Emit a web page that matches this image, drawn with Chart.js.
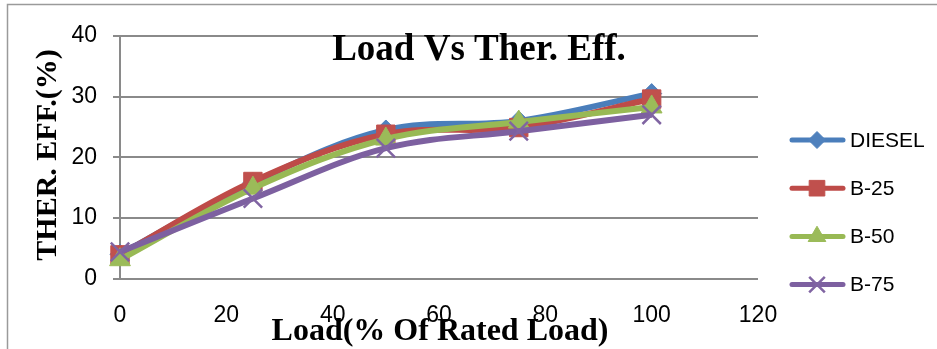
<!DOCTYPE html>
<html>
<head>
<meta charset="utf-8">
<title>Load Vs Ther. Eff.</title>
<script src="https://cdn.jsdelivr.net/npm/chart.js@4.4.1/dist/chart.umd.min.js"></script>
<style>
  body { margin: 0; background: #fff; }
  #wrap { position: relative; width: 937px; height: 349px; }
</style>
</head>
<body>
<div id="wrap"><canvas id="myChart" width="937" height="349"></canvas></div>
<script>
// data
const loads = [0, 25, 50, 75, 100];
const diesel = [4.0, 15.8, 24.5, 26.0, 30.5];
const b25 = [3.9, 16.0, 23.8, 24.9, 29.6];
const b50 = [3.1, 14.9, 23.0, 25.8, 28.3];
const b75 = [4.4, 13.2, 21.5, 24.3, 27.0];
const seriesNames = ['DIESEL', 'B-25', 'B-50', 'B-75'];
const xTicks = [0, 20, 40, 60, 80, 100, 120];
const yTicks = [0, 10, 20, 30, 40];

const tickFont = '"Liberation Sans", Arial, sans-serif';
const serif = '"Liberation Serif", "Times New Roman", serif';

function pts(vals) {
    return loads.map((x, i) => ({ x: x, y: vals[i] }));
}

// later series drawn on top, like the original
function makeSet(label, vals, line, mark, style, radius, bw, order) {
    return {
        label: label,
        data: pts(vals),
        order: order,
        borderColor: line,
        borderWidth: 6,
        tension: 0.35,
        pointStyle: style,
        pointRadius: radius,
        pointHoverRadius: radius,
        pointBackgroundColor: mark,
        pointBorderColor: mark,
        pointBorderWidth: bw,
        clip: false
    };
}

// frame, titles and legend drawn on the canvas
const extras = {
    id: 'extras',
    beforeDraw(chart) {
        const c = chart.ctx;
        c.save();
        c.strokeStyle = '#9a9a9a';
        c.lineWidth = 1.5;
        c.beginPath();
        c.moveTo(7.5, 349);
        c.lineTo(7.5, 4.5);
        c.lineTo(937, 4.5);
        c.stroke();
        c.restore();
    },
    afterDraw(chart) {
        const c = chart.ctx;
        c.save();
        c.fillStyle = '#000';
        c.textAlign = 'center';
        c.textBaseline = 'alphabetic';
        c.font = 'bold 37px ' + serif;
        c.fillText('Load Vs Ther. Eff.', 479, 60);
        c.font = 'bold 32px ' + serif;
        c.fillText('Load(% Of Rated Load)', 440, 340);
        c.save();
        c.translate(56, 155);
        c.rotate(-Math.PI / 2);
        c.font = 'bold 30px ' + serif;
        c.fillText('THER. EFF.(%)', 0, 0);
        c.restore();

        // legend
        chart.data.datasets.forEach((ds, i) => {
            const y = 140 + i * 48.2;
            c.strokeStyle = ds.borderColor;
            c.lineWidth = 5;
            c.lineCap = 'round';
            c.beginPath();
            c.moveTo(792, y);
            c.lineTo(843, y);
            c.stroke();
            c.fillStyle = ds.pointBackgroundColor;
            c.strokeStyle = ds.pointBorderColor;
            c.lineWidth = ds.pointBorderWidth;
            c.lineCap = 'butt';
            Chart.helpers.drawPoint(c, {
                pointStyle: ds.pointStyle,
                radius: ds.pointRadius * 0.85,
                rotation: 0,
                borderWidth: ds.pointBorderWidth
            }, 817, y);
            c.fillStyle = '#000';
            c.textAlign = 'left';
            c.textBaseline = 'middle';
            c.font = '21px ' + tickFont;
            c.fillText(ds.label, 850, y + 1);
        });
        c.restore();
    }
};

const ctx = document.getElementById('myChart').getContext('2d');
const myChart = new Chart(ctx, {
    type: 'line',
    data: {
        datasets: [
            makeSet(seriesNames[0], diesel, '#4A7EBB', '#4F81BD', 'rectRot', 10, 1, 4),
            makeSet(seriesNames[1], b25, '#BE4B48', '#C0504D', 'rect', 13, 1, 3),
            makeSet(seriesNames[2], b50, '#98B954', '#9BBB59', 'triangle', 12, 1, 2),
            makeSet(seriesNames[3], b75, '#7D60A0', '#8064A2', 'crossRot', 13, 2.5, 1)
        ]
    },
    options: {
        responsive: false,
        animation: false,
        devicePixelRatio: 1,
        layout: { padding: { left: 0, right: 179, top: 36, bottom: 0 } },
        plugins: {
            legend: { display: false },
            title: { display: false },
            tooltip: { enabled: false }
        },
        scales: {
            x: {
                type: 'linear',
                min: 0,
                max: 120,
                afterBuildTicks: s => { s.ticks = xTicks.map(v => ({ value: v })); },
                afterFit: s => { s.height = 70.5; },
                grid: { display: false, drawTicks: false },
                border: { display: false },
                ticks: {
                    padding: 23,
                    maxRotation: 0,
                    color: '#000',
                    font: { family: tickFont, size: 23 }
                }
            },
            y: {
                min: 0,
                max: 40,
                afterBuildTicks: s => { s.ticks = yTicks.map(v => ({ value: v })); },
                afterFit: s => { s.width = 120; },
                grid: { color: '#8a8a8a', lineWidth: 2, tickLength: 7, drawTicks: true },
                border: { display: true, color: '#8a8a8a', width: 2 },
                ticks: {
                    padding: 16,
                    color: '#000',
                    font: { family: tickFont, size: 23 }
                }
            }
        }
    },
    plugins: [extras]
});
</script>
</body>
</html>
